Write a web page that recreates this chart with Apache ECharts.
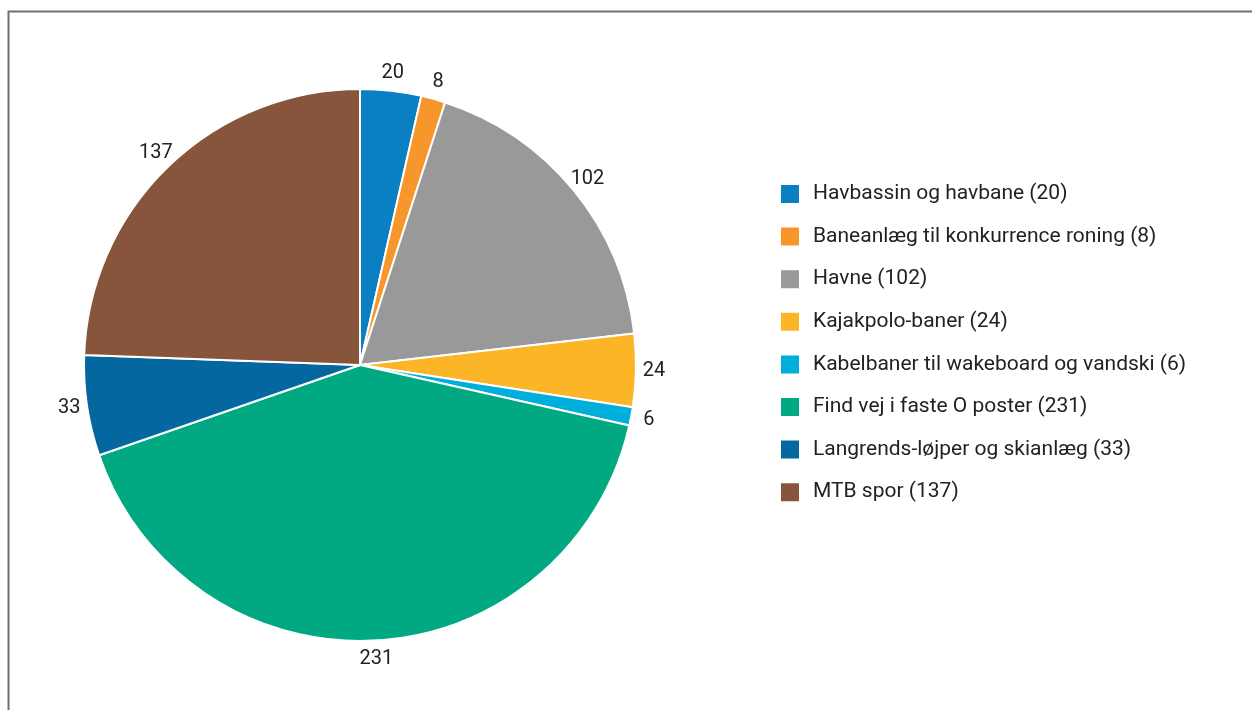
<!DOCTYPE html>
<html>
<head>
<meta charset="utf-8">
<script src="https://cdn.jsdelivr.net/npm/echarts@6/dist/echarts.min.js"></script>
<style>
  html, body { margin: 0; padding: 0; background: #fff; }
  #chart { width: 1252px; height: 710px; }
</style>
</head>
<body>
<div id="chart"></div>
<script>
const categories = [
  'Havbassin og havbane',
  'Baneanlæg til konkurrence roning',
  'Havne',
  'Kajakpolo-baner',
  'Kabelbaner til wakeboard og vandski',
  'Find vej i faste O poster',
  'Langrends-løjper og skianlæg',
  'MTB spor'
];
const values = [20, 8, 102, 24, 6, 231, 33, 137];
const colors = ['#0a7fc2', '#f7962a', '#999999', '#fbb526', '#00aedb', '#00a982', '#04679f', '#87543c'];

const valueByName = {};
categories.forEach((c, i) => { valueByName[c] = values[i]; });

const chart = echarts.init(document.getElementById('chart'));
chart.setOption({
  animation: false,
  backgroundColor: '#ffffff',
  color: colors,
  textStyle: { fontFamily: 'Roboto' },
  graphic: [{
    type: 'polyline',
    silent: true,
    shape: { points: [[8.5, 710], [8.5, 11.5], [1252, 11.5]] },
    style: { stroke: '#707070', lineWidth: 2, fill: null }
  }],
  legend: {
    orient: 'vertical',
    left: 779,
    top: 183,
    padding: 0,
    itemWidth: 20,
    itemHeight: 20,
    itemGap: 20.6,
    icon: 'rect',
    formatter: name => name + ' (' + valueByName[name] + ')',
    textStyle: { fontSize: 21, lineHeight: 20, color: '#222222', fontFamily: 'Roboto', padding: [0, 0, 0, 8] },
    data: categories
  },
  series: [{
    type: 'pie',
    center: [360, 365],
    radius: 276,
    startAngle: 90,
    clockwise: true,
    avoidLabelOverlap: false,
    itemStyle: { borderColor: '#ffffff', borderWidth: 2 },
    label: {
      show: true,
      position: 'outside',
      formatter: '{c}',
      fontSize: 20,
      color: '#222222',
      fontFamily: 'Roboto',
      distanceToLabelLine: 0
    },
    labelLine: { show: false, length: 18, length2: 0 },
    labelLayout: function () { return { align: 'center' }; },
    data: categories.map((c, i) => ({ name: c, value: values[i] }))
  }]
});
</script>
</body>
</html>
